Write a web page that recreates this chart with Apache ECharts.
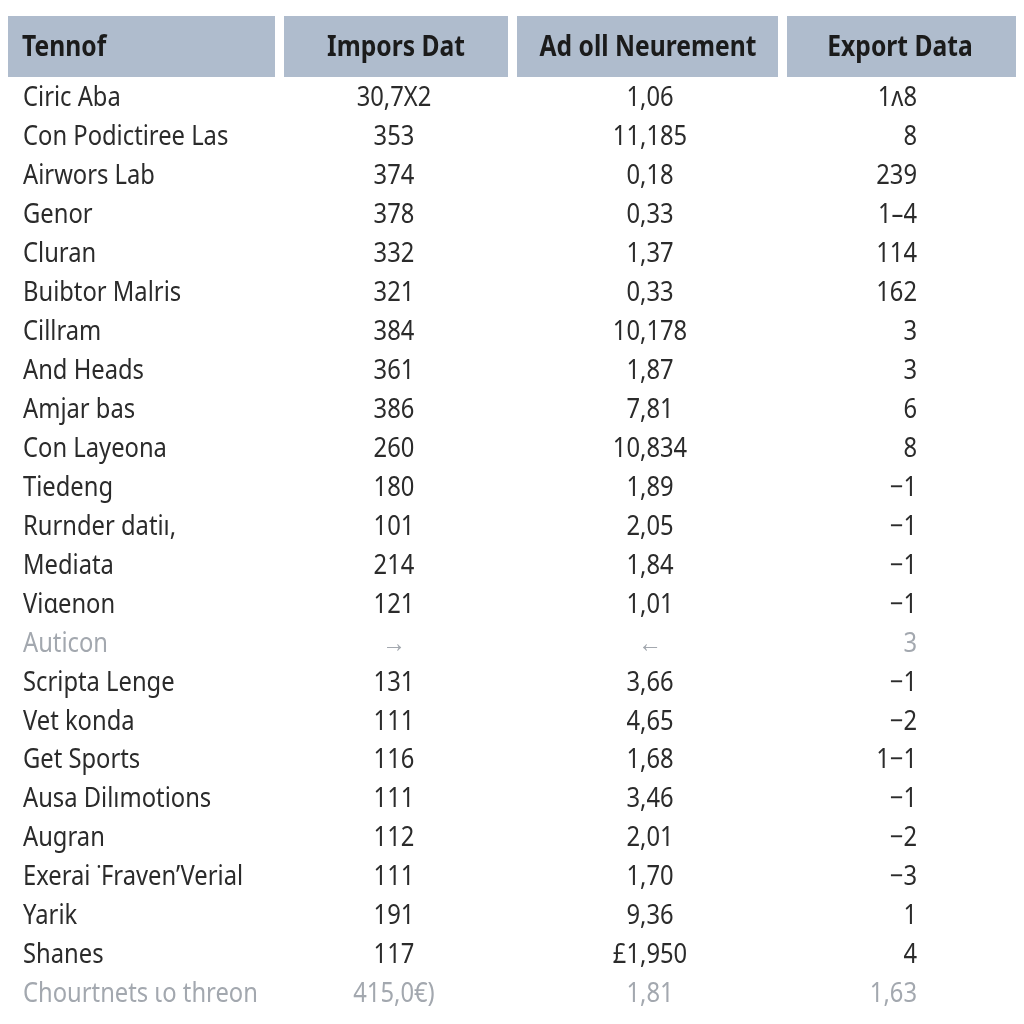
<!DOCTYPE html>
<html>
<head>
<meta charset="utf-8">
<script src="https://cdn.jsdelivr.net/npm/echarts@6/dist/echarts.min.js"></script>
<style>
  html, body { margin: 0; padding: 0; background: #fff; }
  #main { width: 1024px; height: 1024px; }
</style>
</head>
<body>
<div id="main"></div>
<script>
  var headers = ['Tennof', 'Impors Dat', 'Ad oll Neurement', 'Export Data'];
  var names = ['Ciric Aba', 'Con Podictiree Las', 'Airwors Lab', 'Genor', 'Cluran', 'Buibtor Malris',
    'Cillram', 'And Heads', 'Amjar bas', 'Con Layeona', 'Tiedeng', 'Rurnder datiı,', 'Mediata',
    'Viɑenon', 'Auticon', 'Scripta Lenge', 'Vet konda', 'Get Sports', 'Ausa Dilımotions', 'Augran',
    'Exerai ˙Fraven’Verial', 'Yarik', 'Shanes', 'Chourtnets ιo threon'];
  var imports = ['30,7X2', '353', '374', '378', '332', '321', '384', '361', '386', '260', '180', '101',
    '214', '121', '→', '131', '111', '116', '111', '112', '111', '191', '117', '415,0€)'];
  var measures = ['1,06', '11,185', '0,18', '0,33', '1,37', '0,33', '10,178', '1,87', '7,81', '10,834',
    '1,89', '2,05', '1,84', '1,01', '←', '3,66', '4,65', '1,68', '3,46', '2,01', '1,70', '9,36',
    '£1,950', '1,81'];
  var exportVals = ['1ʌ8', '8', '239', '1–4', '114', '162', '3', '3', '6', '8', '−1', '−1', '−1', '−1',
    '3', '−1', '−2', '1−1', '−1', '−2', '−3', '1', '4', '1,63'];

  // layout
  var colEdges = [[8, 275], [284, 508], [517, 778], [787, 1016]];
  var headAnchor = [22, 396, 648, 900];
  var headAlign = ['left', 'center', 'center', 'center'];
  var bodyAnchor = [23, 394, 650, 917];
  var bodyAlign = ['left', 'center', 'center', 'right'];
  var mutedRows = [14, 23];

  var chart = echarts.init(document.getElementById('main'));

  function renderHeader(params, api) {
    var i = params.dataIndex;
    var a = api.coord([colEdges[i][0], 0]);
    var b = api.coord([colEdges[i][1], 0]);
    var h = api.size([0, 1])[1];
    var t = api.coord([headAnchor[i], 0]);
    return {
      type: 'group',
      children: [{
        type: 'rect',
        shape: { x: a[0], y: a[1] - h / 2, width: b[0] - a[0], height: h },
        style: { fill: '#afbccd' }
      }, {
        type: 'text',
        x: t[0], y: t[1] + 1,
        scaleX: 0.85,
        style: {
          text: headers[i], fill: '#1b1b1b', fontSize: 29, fontWeight: 'bold',
          fontFamily: 'Noto Sans', align: headAlign[i], verticalAlign: 'middle'
        }
      }]
    };
  }

  function renderRow(params, api) {
    var r = params.dataIndex;
    var cells = [names[r], imports[r], measures[r], exportVals[r]];
    var muted = mutedRows.indexOf(r) >= 0;
    var children = [];
    for (var j = 0; j < 4; j++) {
      var p = api.coord([bodyAnchor[j], r]);
      children.push({
        type: 'text',
        x: p[0], y: p[1],
        scaleX: 0.88,
        style: {
          text: cells[j], fill: muted ? '#a3a8af' : '#2b2b2b', fontSize: 27,
          fontFamily: 'Noto Sans', align: bodyAlign[j], verticalAlign: 'middle'
        }
      });
    }
    return { type: 'group', children: children };
  }

  var option = {
    backgroundColor: '#ffffff',
    animation: false,
    grid: [
      { left: 0, right: 0, top: 16, height: 61 },
      { left: 0, right: 0, top: 79, height: 935 }
    ],
    xAxis: [
      { type: 'value', gridIndex: 0, min: 0, max: 1024, show: false },
      { type: 'value', gridIndex: 1, min: 0, max: 1024, show: false }
    ],
    yAxis: [
      { type: 'category', gridIndex: 0, data: ['header'], show: false },
      { type: 'category', gridIndex: 1, data: names, inverse: true, show: false }
    ],
    series: [{
      type: 'custom',
      xAxisIndex: 0, yAxisIndex: 0,
      renderItem: renderHeader,
      data: headers.map(function (h, i) { return [headAnchor[i], 0]; })
    }, {
      type: 'custom',
      xAxisIndex: 1, yAxisIndex: 1,
      renderItem: renderRow,
      data: names.map(function (n, r) { return [0, r]; })
    }]
  };
  chart.setOption(option);
</script>
</body>
</html>
